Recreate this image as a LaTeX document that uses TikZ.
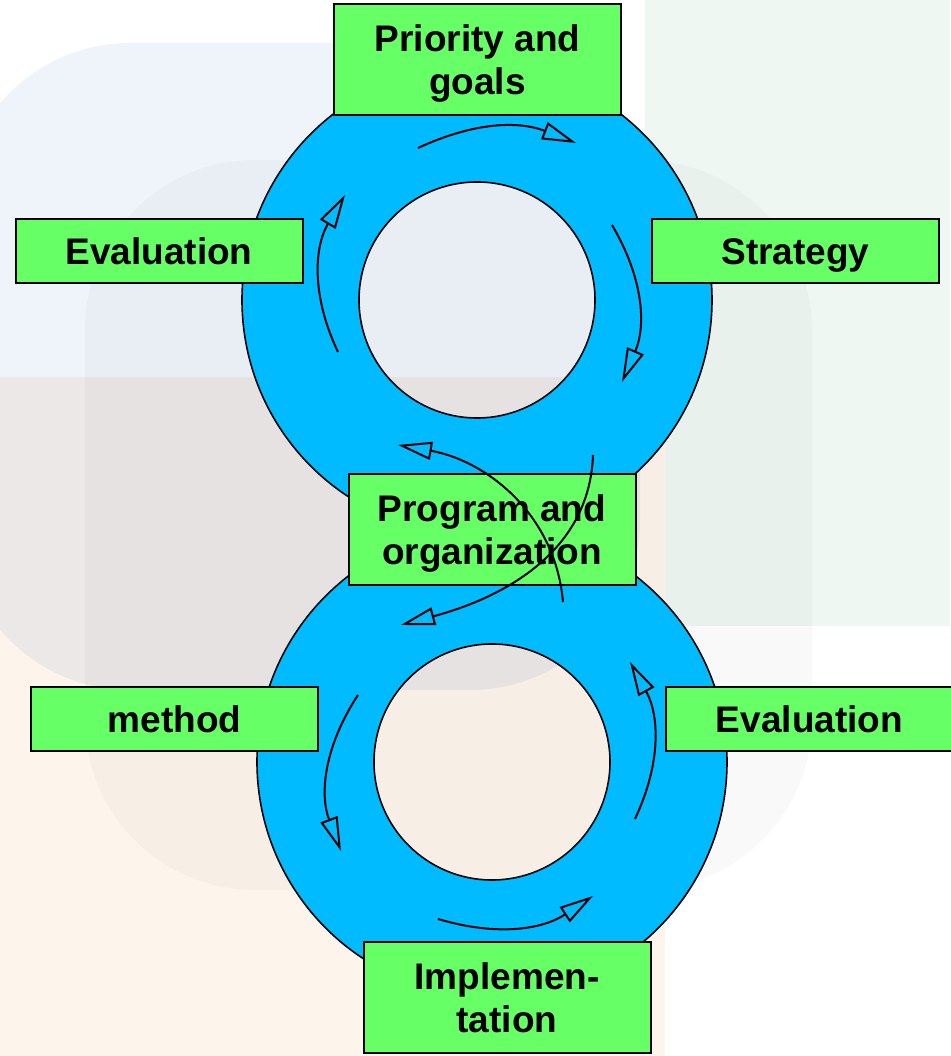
\documentclass[tikz,border=0pt]{standalone}
\usepackage{fontspec}
\setmainfont{Liberation Sans}
\usepackage{tikz}
\usetikzlibrary{arrows.meta}

\definecolor{boxgreen}{HTML}{66FF66}
\definecolor{ringblue}{HTML}{00BBFF}
\definecolor{bgblue}{HTML}{EFF3FA}
\definecolor{bggreen}{HTML}{EFF7F3}
\definecolor{bgpeach}{HTML}{FDF5EC}
\definecolor{bgmix}{HTML}{ECE8E7}

\begin{document}
\begin{tikzpicture}[x=0.5pt, y=0.5pt,
    labelbox/.style={draw=black, line width=1pt, fill=boxgreen, inner sep=0pt,
        minimum width=143.5pt, align=center,
        font=\fontsize{18.5}{21.5}\selectfont\bfseries},
    onebox/.style={labelbox, minimum height=32pt, text height=13.5pt, text depth=0pt},
    twobox/.style={labelbox, minimum height=55.5pt, text depth=0pt},
    ringpath/.style={fill=ringblue, even odd rule, draw=black, line width=0.8pt},
    cyc/.style={line width=1pt, -{Triangle[open, length=17pt, width=9pt]}}]
                \useasboundingbox (0,0) rectangle (950,1056);

                % Background
                \fill[bgblue, rounded corners=85pt] (-40,366) rectangle (640,1013);
                \fill[bggreen] (645,430) rectangle (950,1056);
                \fill[bgpeach] (0,0) rectangle (665,678);
                \begin{scope}
                    \clip (0,0) rectangle (665,678);
                    \fill[bgmix, rounded corners=85pt] (-40,366) rectangle (640,1013);
                \end{scope}
                \fill[black, opacity=0.025, rounded corners=85pt] (85,166) rectangle (812,896);

                % Rings
                \coordinate (up) at (477,756);
                \coordinate (lo) at (492,294);
                \path[ringpath] (up) circle (235) (up) circle (118);
                \path[ringpath] (lo) circle (235) (lo) circle (118);

                % Boxes
                \node[twobox] (prio) at (477.5,996) {Priority and\\goals};
                \node[onebox] (evalup) at (159,805) {Evaluation};
                \node[onebox] (strat) at (795.5,805) {Strategy};
                \node[twobox] (prog) at (492,526.5) {Program and\\organization};
                \node[onebox] (meth) at (174.5,337) {method};
                \node[onebox] (evallo) at (809.5,337) {Evaluation};
                \node[twobox] (impl) at (507,58.5) {Implemen-\\tation};

                % Upper cycle
                \draw[cyc] (418,908) to[bend left=23] (576,913);
                \draw[cyc] (612,831) to[bend left=27] (622,674);
                \draw[cyc] (338,704) to[bend left=28] (345,861);

                % Lower cycle
                \draw[cyc] (358,361) to[bend right=27] (341,205);
                \draw[cyc] (438,137) to[bend right=25] (593,160);
                \draw[cyc] (635,237) to[bend right=27] (630,394);

                % Crossing
                \draw[cyc] (593,601) to[out=-92, in=15] (401,431);
                \draw[cyc] (563,454) to[out=95, in=-10] (398,611);
            \end{tikzpicture}
\end{document}
